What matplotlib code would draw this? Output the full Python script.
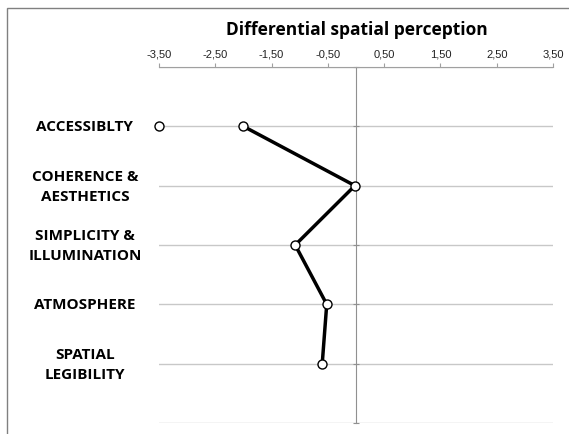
import matplotlib.pyplot as plt
from matplotlib.patches import Rectangle

categories = ["ACCESSIBLTY", "COHERENCE &\nAESTHETICS", "SIMPLICITY &\nILLUMINATION",
              "ATMOSPHERE", "SPATIAL\nLEGIBILITY"]
values = [-2.0, -0.02, -1.08, -0.52, -0.6]
# lone marker on the first row
extra_x = [-3.5]
extra_y = [1]
xticks = [-3.5, -2.5, -1.5, -0.5, 0.5, 1.5, 2.5, 3.5]
xtick_labels = ["-3,50", "-2,50", "-1,50", "-0,50", "0,50", "1,50", "2,50", "3,50"]
title = "Differential spatial perception"

W, H = 569, 435
fig = plt.figure(figsize=(W / 100, H / 100), dpi=100)
fig.patches.append(Rectangle((7 / W, -0.1), 1.2, 1 - 9 / H + 0.1, transform=fig.transFigure,
                             fill=False, edgecolor="#808080", linewidth=1.0))

ax = fig.add_axes([159 / W, 1 - 424 / H, 394 / W, 356 / H])
ys = list(range(1, len(categories) + 1))

ax.plot(values, ys, color="black", linewidth=2.5, marker="o", markersize=6.5,
        markerfacecolor="white", markeredgecolor="black", markeredgewidth=1.0, zorder=5)
ax.plot(extra_x, extra_y, linestyle="none", marker="o", markersize=6.5,
        markerfacecolor="white", markeredgecolor="black", markeredgewidth=1.0, zorder=5,
        clip_on=False)

ax.set_xlim(-3.5, 3.5)
ax.set_ylim(6, 0)
ax.set_xticks(xticks)
ax.set_xticklabels(xtick_labels, fontsize=8, family="Liberation Sans", color="#222222")
ax.xaxis.tick_top()
ax.tick_params(axis="x", direction="out", length=3, color="#a0a0a0", pad=3)

ax.set_yticks(range(0, 7))
ax.set_yticklabels([])
ax.tick_params(axis="y", direction="inout", length=5, color="#909090")
ax.grid(axis="y", color="#c8c8c8", linewidth=1.0)
ax.set_axisbelow(True)

for s in ["right", "bottom"]:
    ax.spines[s].set_visible(False)
ax.spines["top"].set_color("#a0a0a0")
ax.spines["left"].set_position(("data", 0))
ax.spines["left"].set_color("#909090")

for y, lab in zip(ys, categories):
    ax.text(-0.188, y, lab, transform=ax.get_yaxis_transform(), ha="center", va="center",
            fontsize=11, fontweight="bold", family="Open Sans", linespacing=1.55)

fig.text(357 / W, 1 - 30 / H, title, ha="center", va="center", fontsize=12.5,
         fontweight="bold", family="Open Sans")

fig.savefig("out.png", dpi=100)
